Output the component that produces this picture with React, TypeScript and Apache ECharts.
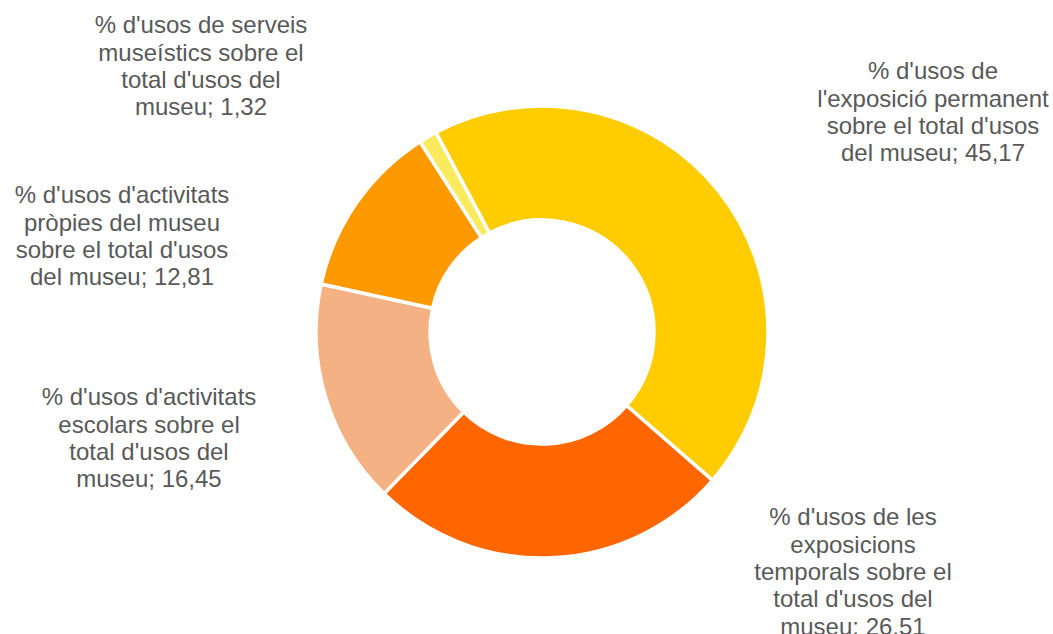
import React, { useEffect, useRef } from "react";
import * as echarts from "echarts";

const categories = [
  "% d'usos de\nl'exposició permanent\nsobre el total d'usos\ndel museu",
  "% d'usos de les\nexposicions\ntemporals sobre el\ntotal d'usos del\nmuseu",
  "% d'usos d'activitats\nescolars sobre el\ntotal d'usos del\nmuseu",
  "% d'usos d'activitats\npròpies del museu\nsobre el total d'usos\ndel museu",
  "% d'usos de serveis\nmuseístics sobre el\ntotal d'usos del\nmuseu",
];
const values = [45.17, 26.51, 16.45, 12.81, 1.32];
const colors = ["#FFCC00", "#FF6600", "#F4B183", "#FF9900", "#FAEB5E"];

// label block positions: [centerX, top]
const labelPos = [
  [933, 57],
  [853, 503],
  [149, 383],
  [122, 181],
  [201, 11],
];

export default function App() {
  const ref = useRef<HTMLDivElement>(null);
  useEffect(() => {
    document.body.style.margin = "0";
    const chart = echarts.init(ref.current!, undefined, { renderer: "svg" });
    chart.setOption({
      animation: false,
      backgroundColor: "#ffffff",
      series: [
        {
          type: "pie",
          center: [542, 332],
          radius: [112, 226],
          startAngle: 118,
          clockwise: true,
          avoidLabelOverlap: false,
          itemStyle: { borderColor: "#ffffff", borderWidth: 3.5 },
          label: {
            show: true,
            position: "outside",
            color: "#595959",
            fontSize: 24,
            lineHeight: 27.4,
            fontFamily: "Liberation Sans",
            align: "center",
            overflow: "none",
            edgeDistance: 0,
            formatter: (p: any) =>
              p.name + "; " + String(p.value).replace(".", ","),
          },
          labelLine: { show: false },
          labelLayout: (params: any) => {
            const pos = labelPos[params.dataIndex];
            return {
              x: pos[0],
              y: pos[1],
              align: "center",
              verticalAlign: "top",
            };
          },
          emphasis: { disabled: true },
          data: values.map((v, i) => ({
            name: categories[i],
            value: v,
            itemStyle: { color: colors[i] },
          })),
        },
      ],
    });
    return () => chart.dispose();
  }, []);
  return <div ref={ref} style={{ width: 1053, height: 634 }} />;
}
